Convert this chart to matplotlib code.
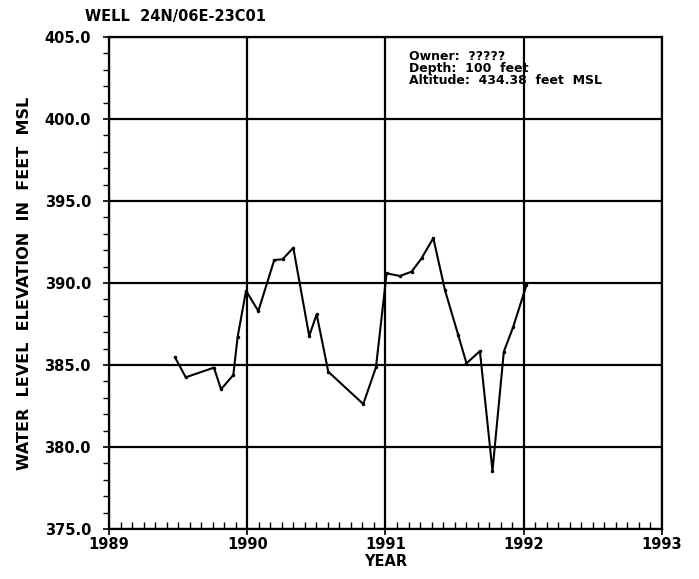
import matplotlib
matplotlib.use("Agg")
import matplotlib.pyplot as plt
from matplotlib.ticker import MultipleLocator

years = [1989.477, 1989.555, 1989.759, 1989.810, 1989.899, 1989.930, 1989.991,
         1990.080, 1990.195, 1990.256, 1990.333, 1990.448, 1990.502, 1990.586,
         1990.839, 1990.931, 1991.008, 1991.104, 1991.189, 1991.261, 1991.346,
         1991.430, 1991.526, 1991.586, 1991.683, 1991.774, 1991.856, 1991.923,
         1992.020]
levels = [385.47, 384.25, 384.84, 383.52, 384.39, 386.7, 389.53,
          388.29, 391.40, 391.45, 392.15, 386.77, 388.09, 384.59,
          382.62, 384.86, 390.59, 390.43, 390.69, 391.51, 392.74,
          389.57, 386.83, 385.10, 385.85, 378.55, 385.81, 387.3,
          389.88]

x_ticks = [1989, 1990, 1991, 1992, 1993]
y_ticks = [375.0, 380.0, 385.0, 390.0, 395.0, 400.0, 405.0]
title = "WELL  24N/06E-23C01"
info = "Owner:  ?????\nDepth:  100  feet\nAltitude:  434.38  feet  MSL"
ylabel = "WATER  LEVEL  ELEVATION  IN  FEET  MSL"

plt.rcParams['font.family'] = ['DejaVu Sans']
plt.rcParams['font.weight'] = 'bold'
plt.rcParams['axes.labelweight'] = 'bold'
fig = plt.figure(figsize=(6.99, 5.79), dpi=100)
ax = fig.add_axes([0.156, 0.0864, 0.791, 0.8496])

ax.plot(years, levels, color='black', linewidth=1.5, marker='o', markersize=1.5)

ax.set_xlim(1989, 1993)
ax.set_ylim(375, 405)
ax.set_xticks(x_ticks)
ax.set_xticklabels([str(t) for t in x_ticks])
ax.set_yticks(y_ticks)
ax.set_yticklabels([f"{t:.1f}" for t in y_ticks])
ax.xaxis.set_minor_locator(MultipleLocator(1/12))
ax.yaxis.set_minor_locator(MultipleLocator(1))

ax.grid(True, which='major', color='black', linewidth=1.6)
ax.tick_params(axis='x', which='major', direction='inout', length=8, width=1.2,
               labelsize=10.5, pad=2)
ax.tick_params(axis='x', which='minor', direction='in', length=5, width=1)
ax.tick_params(axis='y', which='major', direction='inout', length=8, width=1.2,
               labelsize=10.5, pad=9)
ax.tick_params(axis='y', which='minor', direction='out', length=4, width=1)
for s in ax.spines.values():
    s.set_linewidth(1.6)

ax.set_xlabel("YEAR", fontsize=10.5, labelpad=1)
ax.set_ylabel(ylabel, fontsize=11.5, labelpad=9)
fig.text(85/699, 1 - 16/579, title, fontsize=10.5, ha='left', va='center')
ax.text(1991.17, 404.2, info, fontsize=9, ha='left', va='top',
        linespacing=0.88)

fig.savefig("out.png", dpi=100)
